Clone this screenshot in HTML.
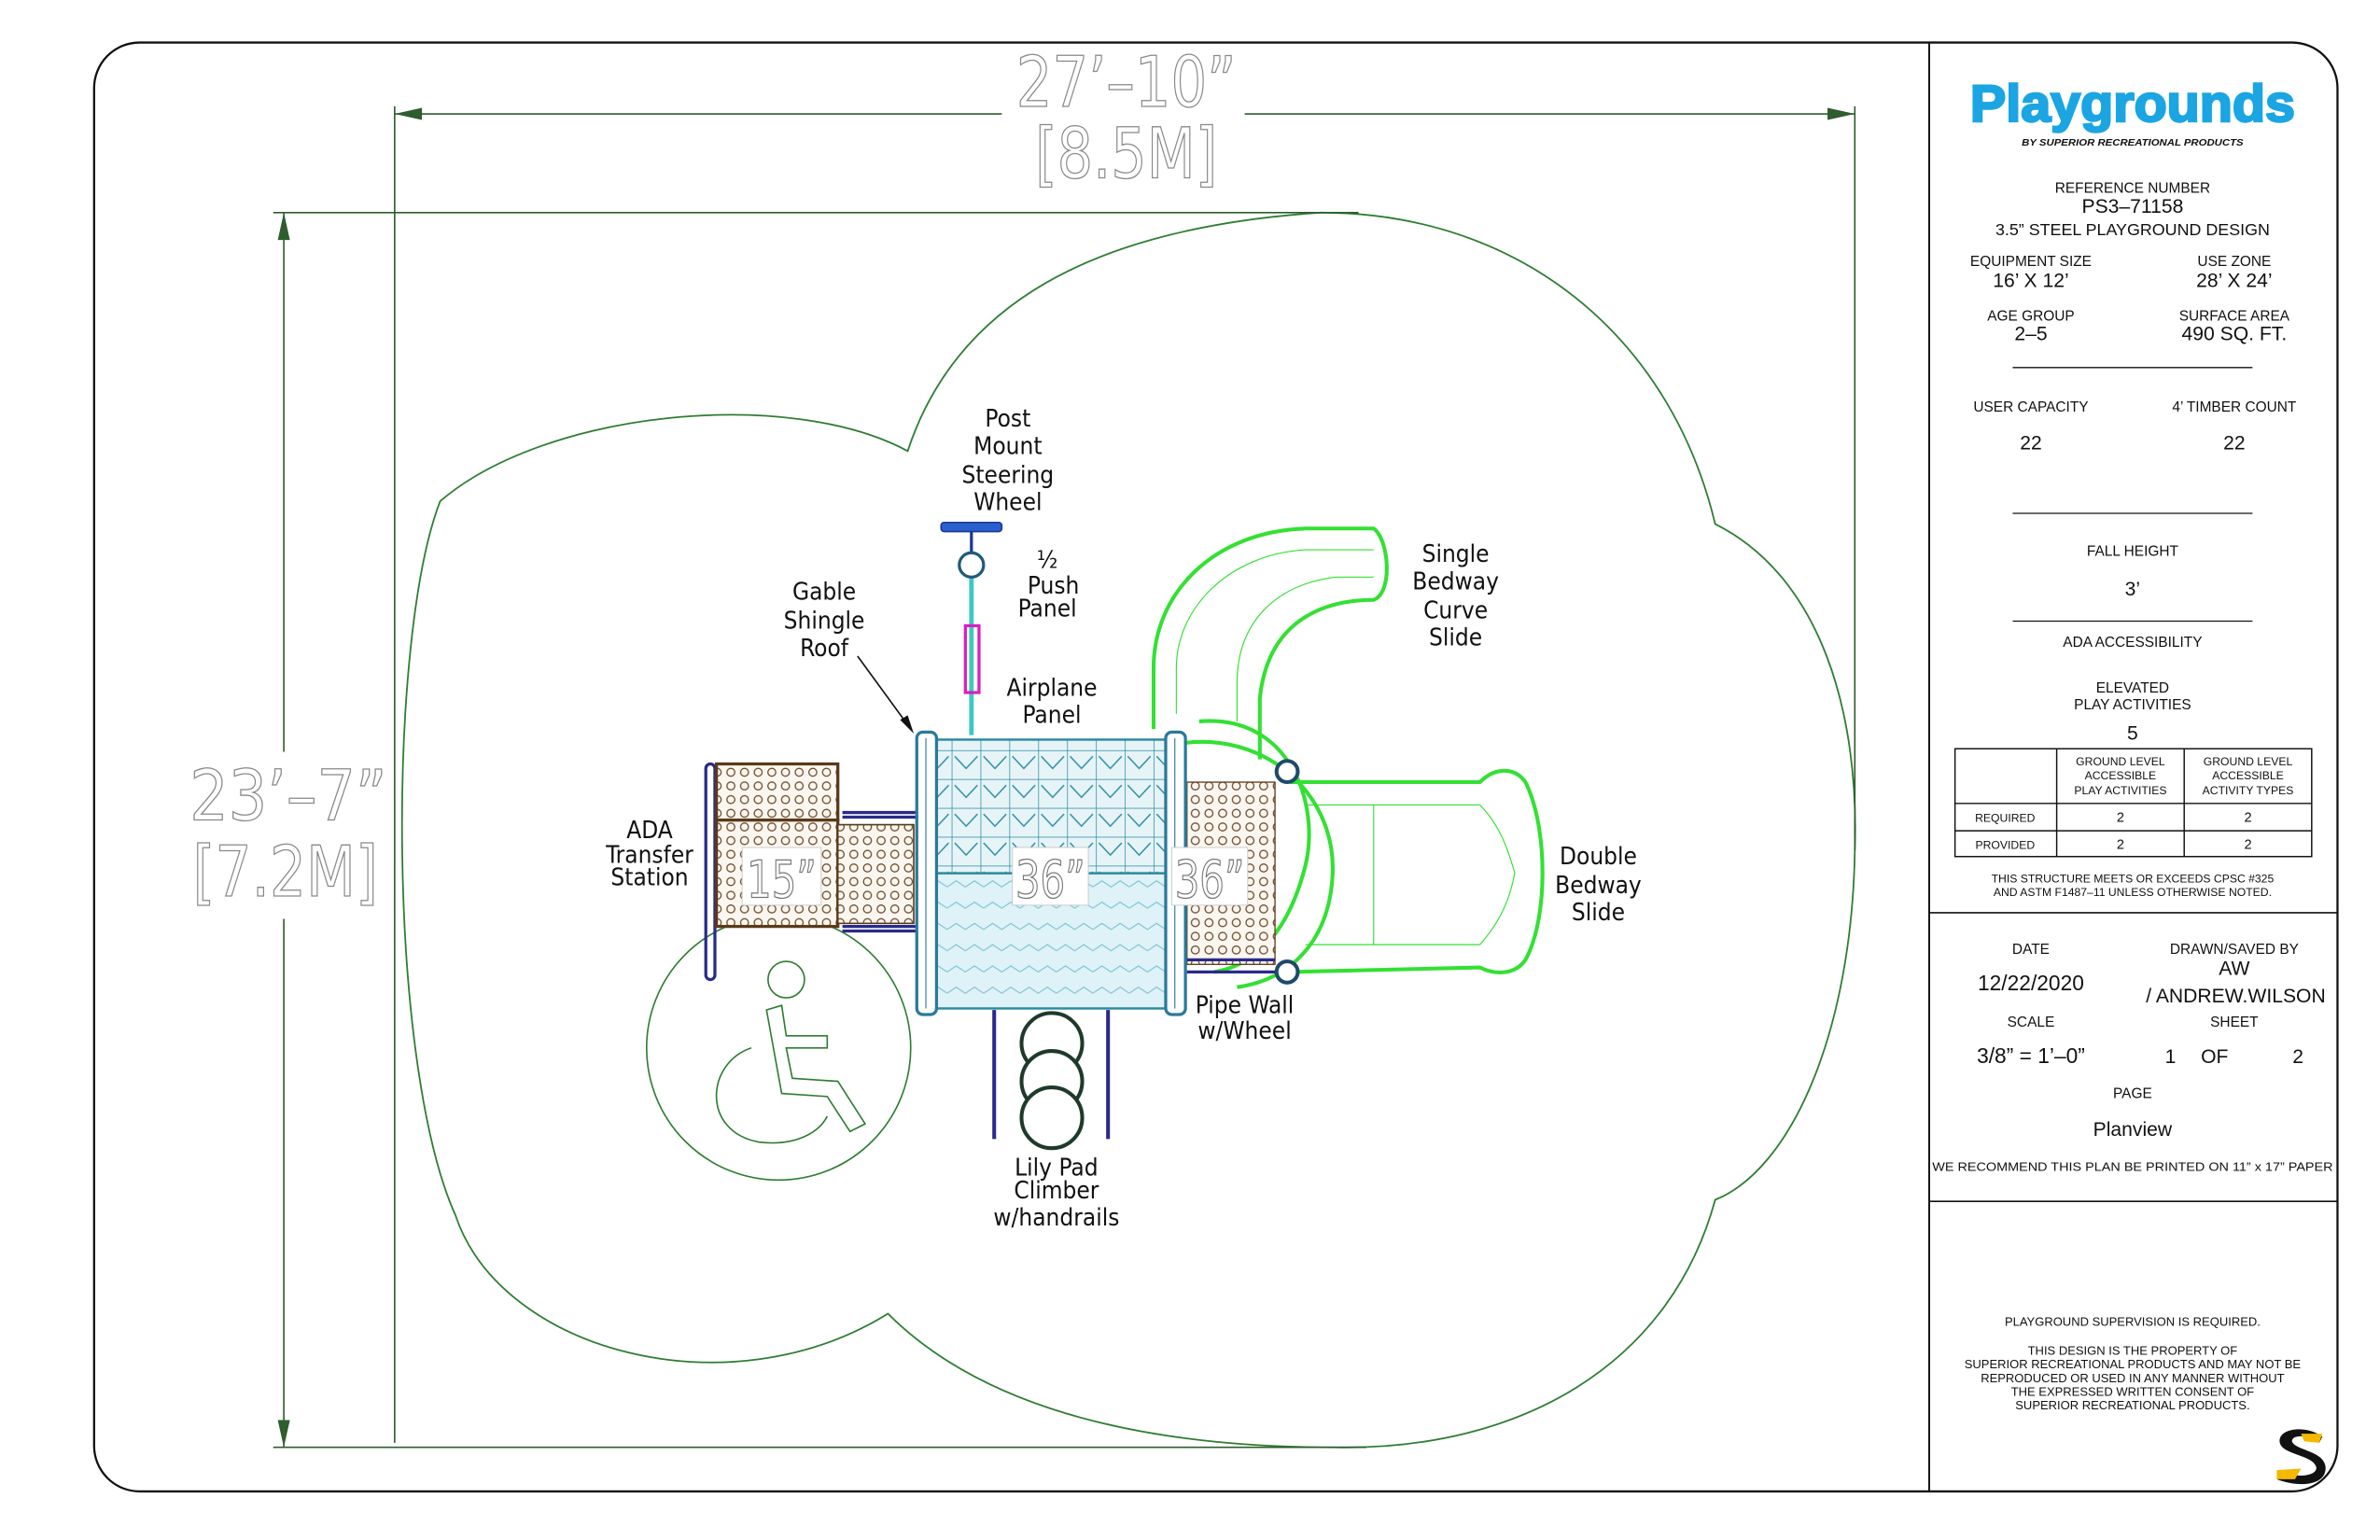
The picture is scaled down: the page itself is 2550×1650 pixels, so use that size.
<!DOCTYPE html>
<html><head><meta charset="utf-8"><style>
html,body{margin:0;padding:0;background:#fff;}
svg{display:block;}
.t{font-family:"Liberation Sans",sans-serif;fill:#111;text-anchor:middle;}
.n{font-family:"Liberation Sans Narrow","DejaVu Sans Condensed","Liberation Sans",sans-serif;fill:#111;text-anchor:middle;font-size:16px;}
.d{font-family:"Liberation Sans Narrow","DejaVu Sans Condensed","Liberation Sans",sans-serif;fill:#fff;stroke:#777;stroke-width:0.8;text-anchor:middle;}
</style></head><body>
<svg width="2550" height="1650" viewBox="0 0 1568 1014" preserveAspectRatio="none" xmlns="http://www.w3.org/2000/svg">
<defs>
<pattern id="dots" width="9" height="9" patternUnits="userSpaceOnUse">
<rect width="9" height="9" fill="#fbf7f0"/><circle cx="4.5" cy="4.5" r="2.6" fill="none" stroke="#6b4a2a" stroke-width="0.8"/></pattern>
<pattern id="dia" width="19" height="19" patternUnits="userSpaceOnUse">
<rect width="19" height="19" fill="#e6f4f7"/><path d="M0 0H19M0 0V19M2 4L9.5 12L17 4" fill="none" stroke="#2a8aa0" stroke-width="0.9"/></pattern>
<pattern id="wave" width="24" height="14" patternUnits="userSpaceOnUse">
<rect width="24" height="14" fill="#dff2f7"/><path d="M0 10L6 6L12 10L18 6L24 10" fill="none" stroke="#7cc4d4" stroke-width="0.7"/></pattern>
</defs>
<rect width="1568" height="1014" fill="#fff"/>
<rect x="62" y="28" width="1478" height="954" rx="30" fill="none" stroke="#111" stroke-width="1.4"/>
<line x1="1271" y1="28" x2="1271" y2="982" stroke="#111" stroke-width="1.2"/>
<line x1="1271" y1="601" x2="1540" y2="601" stroke="#111" stroke-width="1"/>
<line x1="1271" y1="791" x2="1540" y2="791" stroke="#111" stroke-width="1"/>
<line x1="1326" y1="242" x2="1484" y2="242" stroke="#111" stroke-width="0.8"/>
<line x1="1326" y1="338" x2="1484" y2="338" stroke="#111" stroke-width="0.8"/>
<line x1="1326" y1="409" x2="1484" y2="409" stroke="#111" stroke-width="0.8"/>

<path d="M598,297 C630,200 720,150 870,140 C1000,140 1100,220 1130,345 C1200,380 1225,470 1222,560 C1220,680 1180,770 1130,790 C1100,900 1000,955 880,953 C760,953 650,930 585,865 C480,930 330,890 300,800 C255,700 255,420 290,330 C360,270 520,255 598,297 Z" fill="none" stroke="#2e7d32" stroke-width="1.1"/>

<g stroke="#2e5d2e" stroke-width="1" fill="none">
<line x1="260" y1="75" x2="660" y2="75"/><line x1="820" y1="75" x2="1222" y2="75"/>
<line x1="260" y1="70" x2="260" y2="950"/><line x1="1222" y1="70" x2="1222" y2="560"/>
<line x1="187" y1="140" x2="187" y2="495"/><line x1="187" y1="605" x2="187" y2="953"/>
<line x1="180" y1="140" x2="895" y2="140"/><line x1="180" y1="953" x2="900" y2="953"/>
</g>
<g fill="#2e5d2e">
<path d="M260,75 L278,71 L278,79Z"/><path d="M1222,75 L1204,71 L1204,79Z"/>
<path d="M187,140 L183,158 L191,158Z"/><path d="M187,953 L183,935 L191,935Z"/>
</g>
<g class="d" style="font-size:46px;fill:#fff;stroke:#888;">
<text x="742" y="70" textLength="145" lengthAdjust="spacingAndGlyphs">27’–10”</text>
<text x="742" y="117" textLength="120" lengthAdjust="spacingAndGlyphs">[8.5M]</text>
<text x="190" y="540" textLength="130" lengthAdjust="spacingAndGlyphs">23’–7”</text>
<text x="188" y="590" textLength="122" lengthAdjust="spacingAndGlyphs">[7.2M]</text>
</g>

<circle cx="513" cy="690" r="87" fill="none" stroke="#2e7d32" stroke-width="1"/>
<g fill="none" stroke="#2e7d32" stroke-width="1">
<circle cx="518" cy="645" r="12"/>
<path d="M505,665 L515,720 L545,722 L560,745 L570,740 L552,712 L522,710 L518,690 L545,690 L545,682 L518,682 L515,662Z"/>
<path d="M495,690 C465,700 462,745 500,752 C525,755 540,745 545,735"/>
</g>

<g stroke="#2a2a8a" stroke-width="2" fill="none">
<rect x="465" y="503" width="6" height="142" rx="3"/>
<line x1="555" y1="535" x2="605" y2="535"/><line x1="555" y1="538" x2="605" y2="538"/>
<line x1="555" y1="610" x2="605" y2="610"/><line x1="555" y1="613" x2="605" y2="613"/>
</g>
<rect x="472" y="503" width="80" height="37" fill="url(#dots)" stroke="#5a3a1a" stroke-width="2"/>
<rect x="472" y="540" width="80" height="70" fill="url(#dots)" stroke="#5a3a1a" stroke-width="2"/>
<rect x="552" y="543" width="50" height="65" fill="url(#dots)" stroke="#5a3a1a" stroke-width="1"/>

<g stroke="#2a2a8a" stroke-width="2.5" fill="none">
<line x1="655" y1="665" x2="655" y2="750"/><line x1="730" y1="665" x2="730" y2="750"/>
</g>
<g stroke="#1f3a2a" stroke-width="2.5" fill="#fff">
<circle cx="693" cy="687" r="20"/><circle cx="693" cy="712" r="20"/><circle cx="693" cy="736" r="20"/>
</g>

<line x1="640" y1="380" x2="640" y2="484" stroke="#3cc9c0" stroke-width="3"/>
<rect x="636" y="412" width="9" height="44" fill="none" stroke="#d61fc4" stroke-width="2"/>
<rect x="620" y="344" width="40" height="6" rx="2" fill="#2a5fd0" stroke="#1a3a90"/>
<line x1="640" y1="350" x2="640" y2="365" stroke="#1a3a90" stroke-width="2"/>
<circle cx="640" cy="372" r="8" fill="#fff" stroke="#1f5a7a" stroke-width="2"/>

<g fill="none" stroke="#33e033" stroke-width="2.5">
<path d="M760,480 L760,440 C760,390 800,350 860,348 L905,348 C915,355 918,390 905,395 C870,395 835,410 830,460 L830,500"/>
<path d="M790,475 C850,470 870,530 860,570 C850,610 830,635 800,640"/>
<path d="M775,490 C830,480 880,520 878,575 C876,620 850,645 815,650"/>
<path d="M850,515 L975,515 C985,505 998,505 1005,515 C1020,545 1020,605 1005,632 C998,642 985,642 975,637 L850,640"/>
</g>
<g fill="none" stroke="#33e033" stroke-width="0.7">
<path d="M775,470 L775,440 C775,400 810,365 860,362 L905,362"/>
<path d="M815,475 L815,450 C815,410 840,385 880,380 L905,380"/>
<line x1="860" y1="530" x2="975" y2="530"/><line x1="860" y1="622" x2="975" y2="622"/>
<line x1="905" y1="530" x2="905" y2="622"/><path d="M975,530 C990,545 995,565 998,575 C995,590 990,605 975,622"/>
</g>
<rect x="782" y="515" width="58" height="120" fill="url(#dots)" stroke="#5a3a1a" stroke-width="0.8"/>
<g stroke="#2a2a8a" stroke-width="2" fill="none">
<line x1="782" y1="632" x2="840" y2="632"/><line x1="782" y1="640" x2="848" y2="640"/>
</g>
<circle cx="848" cy="508" r="7" fill="#fff" stroke="#1f4a6a" stroke-width="2.5"/>
<circle cx="848" cy="640" r="7" fill="#fff" stroke="#1f4a6a" stroke-width="2.5"/>

<rect x="617" y="487" width="151" height="88" fill="url(#dia)" stroke="#2a8aa0" stroke-width="1.5"/>
<rect x="617" y="575" width="151" height="89" fill="url(#wave)" stroke="#2a8aa0" stroke-width="1.5"/>
<rect x="604" y="482" width="13" height="186" rx="4" fill="#fff" stroke="#2a7a9a" stroke-width="2"/>
<rect x="768" y="482" width="13" height="186" rx="4" fill="#fff" stroke="#2a7a9a" stroke-width="2"/>
<line x1="610" y1="486" x2="610" y2="664" stroke="#2a7a9a" stroke-width="0.7"/>
<line x1="774" y1="486" x2="774" y2="664" stroke="#2a7a9a" stroke-width="0.7"/>

<rect x="489" y="558" width="52" height="38" fill="#fff" stroke="#ccc" stroke-width="0.6"/>
<rect x="667" y="558" width="50" height="38" fill="#fff" stroke="#ccc" stroke-width="0.6"/>
<rect x="772" y="558" width="50" height="38" fill="#fff" stroke="#ccc" stroke-width="0.6"/>
<g class="d" style="font-size:34px;">
<text x="515" y="591" textLength="46" lengthAdjust="spacingAndGlyphs">15”</text><text x="692" y="591" textLength="46" lengthAdjust="spacingAndGlyphs">36”</text><text x="797" y="591" textLength="46" lengthAdjust="spacingAndGlyphs">36”</text>
</g>

<line x1="565" y1="432" x2="600" y2="480" stroke="#111" stroke-width="1"/>
<path d="M602,483 L593,474 L598,471Z" fill="#111"/>

<g class="n">
<text x="664" y="281">Post</text><text x="664" y="299">Mount</text><text x="664" y="318">Steering</text><text x="664" y="336">Wheel</text>
<text x="690" y="374">½</text><text x="694" y="391">Push</text><text x="690" y="406">Panel</text>
<text x="543" y="395">Gable</text><text x="543" y="414">Shingle</text><text x="543" y="432">Roof</text>
<text x="693" y="458">Airplane</text><text x="693" y="476">Panel</text>
<text x="959" y="370">Single</text><text x="959" y="388">Bedway</text><text x="959" y="407">Curve</text><text x="959" y="425">Slide</text>
<text x="428" y="552">ADA</text><text x="428" y="568">Transfer</text><text x="428" y="583">Station</text>
<text x="1053" y="569">Double</text><text x="1053" y="588">Bedway</text><text x="1053" y="606">Slide</text>
<text x="820" y="667">Pipe Wall</text><text x="820" y="684">w/Wheel</text>
<text x="696" y="774">Lily Pad</text><text x="696" y="789">Climber</text><text x="696" y="807">w/handrails</text>
</g>

<text x="1405" y="80" class="t" textLength="214" lengthAdjust="spacingAndGlyphs" style="font-size:34px;font-weight:900;fill:#1ba5e2;stroke:#1ba5e2;stroke-width:1.5;">Playgrounds</text>
<text x="1405" y="96" class="t" textLength="146" lengthAdjust="spacingAndGlyphs" style="font-size:6px;font-weight:bold;font-style:italic;">BY SUPERIOR RECREATIONAL PRODUCTS</text>
<g class="t" style="font-size:9.5px;">
<text x="1405" y="127">REFERENCE NUMBER</text>
<text x="1405" y="140" style="font-size:13px;">PS3–71158</text>
<text x="1405" y="155" style="font-size:11px;">3.5” STEEL PLAYGROUND DESIGN</text>
<text x="1338" y="175">EQUIPMENT SIZE</text><text x="1338" y="189" style="font-size:13px;">16’ X 12’</text>
<text x="1472" y="175">USE ZONE</text><text x="1472" y="189" style="font-size:13px;">28’ X 24’</text>
<text x="1338" y="211">AGE GROUP</text><text x="1338" y="224" style="font-size:13px;">2–5</text>
<text x="1472" y="211">SURFACE AREA</text><text x="1472" y="224" style="font-size:13px;">490 SQ. FT.</text>
<text x="1338" y="271">USER CAPACITY</text><text x="1472" y="271">4’ TIMBER COUNT</text>
<text x="1338" y="296" style="font-size:13px;">22</text><text x="1472" y="296" style="font-size:13px;">22</text>
<text x="1405" y="366">FALL HEIGHT</text><text x="1405" y="392" style="font-size:13px;">3’</text>
<text x="1405" y="426">ADA ACCESSIBILITY</text>
<text x="1405" y="456">ELEVATED</text><text x="1405" y="467">PLAY ACTIVITIES</text>
<text x="1405" y="487" style="font-size:13px;">5</text>
</g>
<g stroke="#111" stroke-width="0.9" fill="none">
<rect x="1288" y="493" width="235" height="71"/>
<line x1="1355" y1="493" x2="1355" y2="564"/><line x1="1439" y1="493" x2="1439" y2="564"/>
<line x1="1288" y1="529" x2="1523" y2="529"/><line x1="1288" y1="547" x2="1523" y2="547"/>
</g>
<g class="t" style="font-size:7.5px;">
<text x="1397" y="504">GROUND LEVEL</text><text x="1397" y="513">ACCESSIBLE</text><text x="1397" y="523">PLAY ACTIVITIES</text>
<text x="1481" y="504">GROUND LEVEL</text><text x="1481" y="513">ACCESSIBLE</text><text x="1481" y="523">ACTIVITY TYPES</text>
<text x="1321" y="541">REQUIRED</text><text x="1321" y="559">PROVIDED</text>
<text x="1397" y="541" style="font-size:9px;">2</text><text x="1481" y="541" style="font-size:9px;">2</text>
<text x="1397" y="559" style="font-size:9px;">2</text><text x="1481" y="559" style="font-size:9px;">2</text>
<text x="1405" y="581">THIS STRUCTURE MEETS OR EXCEEDS CPSC #325</text>
<text x="1405" y="590">AND ASTM F1487–11 UNLESS OTHERWISE NOTED.</text>
</g>
<g class="t" style="font-size:9.5px;">
<text x="1338" y="628">DATE</text><text x="1338" y="652" style="font-size:14px;">12/22/2020</text>
<text x="1472" y="628">DRAWN/SAVED BY</text><text x="1472" y="642" style="font-size:13px;">AW</text>
<text x="1473" y="660" style="font-size:13px;">/ ANDREW.WILSON</text>
<text x="1338" y="676">SCALE</text><text x="1338" y="700" style="font-size:14px;">3/8” = 1’–0”</text>
<text x="1472" y="676">SHEET</text>
<text x="1430" y="700" style="font-size:13px;">1</text><text x="1459" y="700" style="font-size:13px;">OF</text><text x="1514" y="700" style="font-size:13px;">2</text>
<text x="1405" y="723">PAGE</text><text x="1405" y="748" style="font-size:13px;">Planview</text>
<text x="1405" y="771" textLength="264" lengthAdjust="spacingAndGlyphs" style="font-size:8px;">WE RECOMMEND THIS PLAN BE PRINTED ON 11” x 17” PAPER</text>
</g>
<g class="t" style="font-size:8px;">
<text x="1405" y="873">PLAYGROUND SUPERVISION IS REQUIRED.</text>
<text x="1405" y="892">THIS DESIGN IS THE PROPERTY OF</text>
<text x="1405" y="901">SUPERIOR RECREATIONAL PRODUCTS AND MAY NOT BE</text>
<text x="1405" y="910">REPRODUCED OR USED IN ANY MANNER WITHOUT</text>
<text x="1405" y="919">THE EXPRESSED WRITTEN CONSENT OF</text>
<text x="1405" y="928">SUPERIOR RECREATIONAL PRODUCTS.</text>
</g>
<path d="M1530,946 C1520,938 1500,940 1502,950 C1504,958 1524,958 1526,966 C1527,972 1512,974 1502,968 L1500,974 C1515,980 1534,978 1532,965 C1530,955 1512,955 1510,949 C1510,944 1522,945 1528,950Z" fill="#111"/>
<path d="M1500,968 L1516,967 L1512,974 L1500,974Z" fill="#f5b800"/>
<path d="M1516,944 L1530,944 L1528,950 L1518,949Z" fill="#f5b800"/>
</svg>
</body></html>
